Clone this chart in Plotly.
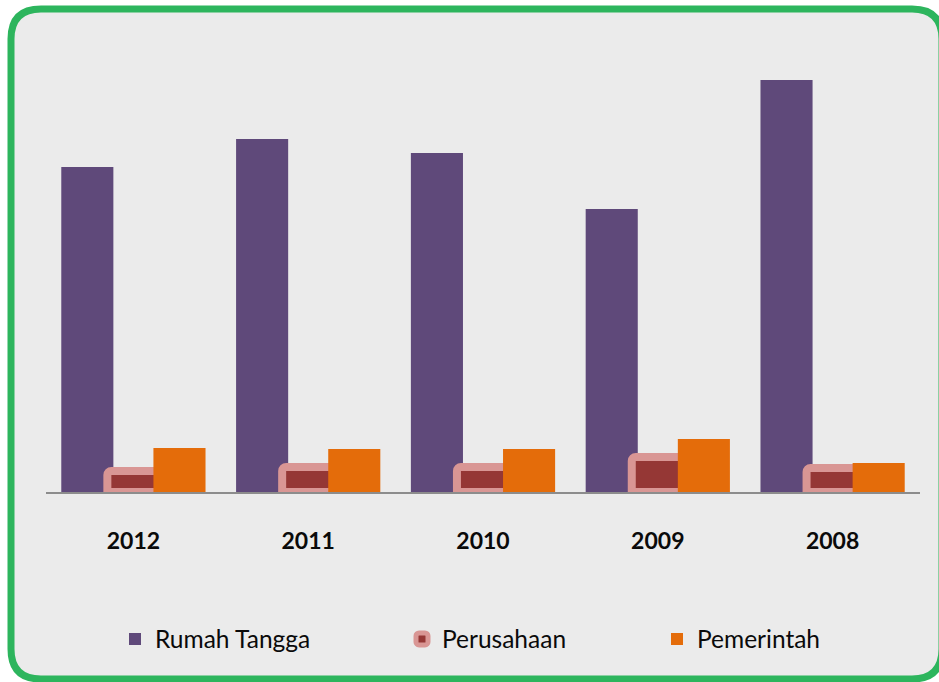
import plotly.graph_objects as go

years = ["2012", "2011", "2010", "2009", "2008"]
rumah_tangga = [325, 353, 339, 283, 412]
perusahaan = [21, 25, 25, 35, 24]
pemerintah = [44, 43, 43, 53, 29]

W, H = 939, 682
L, R, T, B = 46, 19, 62, 190
PW, PH = W - L - R, H - T - B


def px(x):
    return (x - L) / PW


def py(y):
    return (H - B - y) / PH


def rounded_rect(x0, y0, x1, y1, r):
    return (f"M{px(x0 + r)},{py(y0)} L{px(x1 - r)},{py(y0)} "
            f"Q{px(x1)},{py(y0)} {px(x1)},{py(y0 + r)} "
            f"L{px(x1)},{py(y1 - r)} Q{px(x1)},{py(y1)} {px(x1 - r)},{py(y1)} "
            f"L{px(x0 + r)},{py(y1)} Q{px(x0)},{py(y1)} {px(x0)},{py(y1 - r)} "
            f"L{px(x0)},{py(y0 + r)} Q{px(x0)},{py(y0)} {px(x0 + r)},{py(y0)} Z")


bw = 52 / 174.5
fig = go.Figure()
fig.add_trace(go.Bar(x=years, y=rumah_tangga, name="Rumah Tangga",
                     marker=dict(color="#5F497A", line=dict(width=0)),
                     width=bw, offset=-72 / 174.5, legend="legend"))
fig.add_trace(go.Bar(x=years, y=perusahaan, name="Perusahaan",
                     marker=dict(color="#953735", line=dict(color="#D99694", width=8),
                                 cornerradius=4),
                     width=bw, offset=-26 / 174.5, legend="legend2"))
fig.add_trace(go.Bar(x=years, y=pemerintah, name="Pemerintah",
                     marker=dict(color="#E46C0A", line=dict(width=0)),
                     width=bw, offset=20 / 174.5, legend="legend3"))

legfont = dict(family="Lato", size=24.5, color="#0A0A0A")
ly = py(639)
common = dict(orientation="h", yanchor="middle", y=ly, xanchor="left",
              bgcolor="rgba(0,0,0,0)", font=legfont)

fig.update_layout(
    width=W, height=H,
    margin=dict(l=L, r=R, t=T, b=B),
    paper_bgcolor="white",
    plot_bgcolor="rgba(0,0,0,0)",
    barmode="overlay",
    showlegend=True,
    legend=dict(x=px(115), **common),
    legend2=dict(x=px(402), **common),
    legend3=dict(x=px(657), **common),
    xaxis=dict(type="category", range=[-0.5, 4.5], showgrid=False,
               showline=True, linecolor="#8C8C8C", linewidth=2, ticks="",
               ticklabelstandoff=27,
               tickfont=dict(family="Lato", size=23, color="#0A0A0A", weight="bold")),
    yaxis=dict(range=[0, PH], visible=False, showgrid=False, zeroline=False),
    shapes=[dict(type="path", xref="paper", yref="paper", layer="below",
                 path=rounded_rect(11, 9, 942, 679, 30),
                 fillcolor="#EBEBEB", line=dict(color="#2DB55D", width=7))],
)

fig.write_html("out.html", config={"displayModeBar": False},
               post_script="document.body.style.margin='0';document.body.style.overflow='hidden';")
